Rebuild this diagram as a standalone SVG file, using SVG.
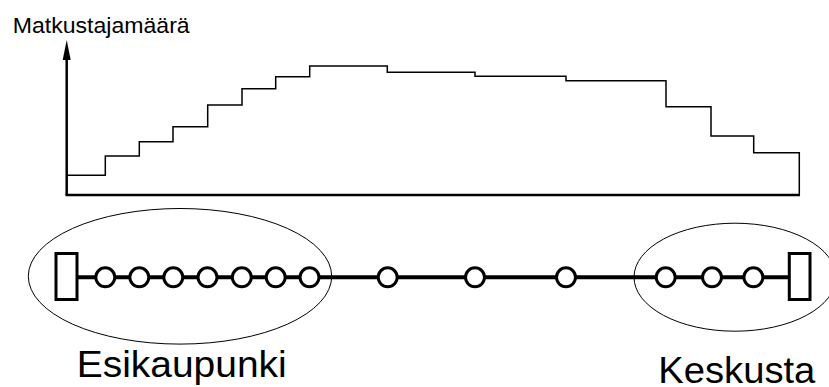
<svg xmlns="http://www.w3.org/2000/svg" width="829" height="387" viewBox="0 0 829 387">
<style>
.txt{font-family:"Liberation Sans",Arial,sans-serif;fill:#000}
.stop{fill:#fff;stroke:#000;stroke-width:3}
.term{fill:#fff;stroke:#000;stroke-width:3}
.zone{fill:none;stroke:#000;stroke-width:1}
</style>
<defs>
<marker id="arr" markerWidth="8" markerHeight="20" refX="4" refY="0" orient="0" markerUnits="userSpaceOnUse" viewBox="0 0 8 20">
<path d="M4,0 L8,20 L0,20 Z" fill="#000"/>
</marker>
</defs>
<rect width="829" height="387" fill="#fff"/>
<g id="chart">
<text class="txt" x="12.7" y="32.7" font-size="22.5" textLength="177" lengthAdjust="spacingAndGlyphs">Matkustajamäärä</text>
<line x1="66.7" y1="195" x2="66.7" y2="58" stroke="#000" stroke-width="2.5"/>
<path d="M66.7,40 L70.7,60 L62.7,60 Z" fill="#000"/>
<line x1="65.5" y1="195" x2="800" y2="195" stroke="#000" stroke-width="2.5"/>
<path d="M67,175.3 H105.3 V156 H139.3 V141.7 H173 V126.7 H207.7 V105 H242 V88.7 H275.7 V76.7 H309.7 V66 H387.3 V72.3 H475 V76.3 H566 V80.7 H666 V106.7 H711 V136 H753.7 V152.7 H799.3 V195" fill="none" stroke="#000" stroke-width="1.5"/>
</g>
<g id="zones">
<ellipse id="zone-left" class="zone" cx="180" cy="276.3" rx="151.7" ry="67.8"/>
<ellipse id="zone-right" class="zone" cx="735" cy="277.2" rx="101" ry="54"/>
</g>
<g id="connectors">
<line x1="77" y1="277.3" x2="789" y2="277.3" stroke="#000" stroke-width="4"/>
</g>
<g id="terminal-left"><rect class="term" x="56" y="253.5" width="21" height="46"/></g>
<g id="terminal-right"><rect class="term" x="789.3" y="253.5" width="20.7" height="46"/></g>
<g id="stops">
<g id="s1"><circle class="stop" cx="105.3" cy="277.3" r="9.5"/></g>
<g id="s2"><circle class="stop" cx="139.3" cy="277.3" r="9.5"/></g>
<g id="s3"><circle class="stop" cx="173.3" cy="277.3" r="9.5"/></g>
<g id="s4"><circle class="stop" cx="207.5" cy="277.3" r="9.5"/></g>
<g id="s5"><circle class="stop" cx="241.8" cy="277.3" r="9.5"/></g>
<g id="s6"><circle class="stop" cx="275.7" cy="277.3" r="9.5"/></g>
<g id="s7"><circle class="stop" cx="309.5" cy="277.3" r="9.5"/></g>
<g id="s8"><circle class="stop" cx="387.7" cy="277.3" r="9.5"/></g>
<g id="s9"><circle class="stop" cx="475" cy="277.3" r="9.5"/></g>
<g id="s10"><circle class="stop" cx="566" cy="277.3" r="9.5"/></g>
<g id="s11"><circle class="stop" cx="665.7" cy="277.3" r="9.5"/></g>
<g id="s12"><circle class="stop" cx="712" cy="277.3" r="9.5"/></g>
<g id="s13"><circle class="stop" cx="753.4" cy="277.3" r="9.5"/></g>
</g>
<g id="labels">
<text class="txt" x="76.7" y="376.7" font-size="37" textLength="210" lengthAdjust="spacingAndGlyphs">Esikaupunki</text>
<text class="txt" x="658.3" y="383.3" font-size="36" textLength="157" lengthAdjust="spacingAndGlyphs">Keskusta</text>
</g>
</svg>
